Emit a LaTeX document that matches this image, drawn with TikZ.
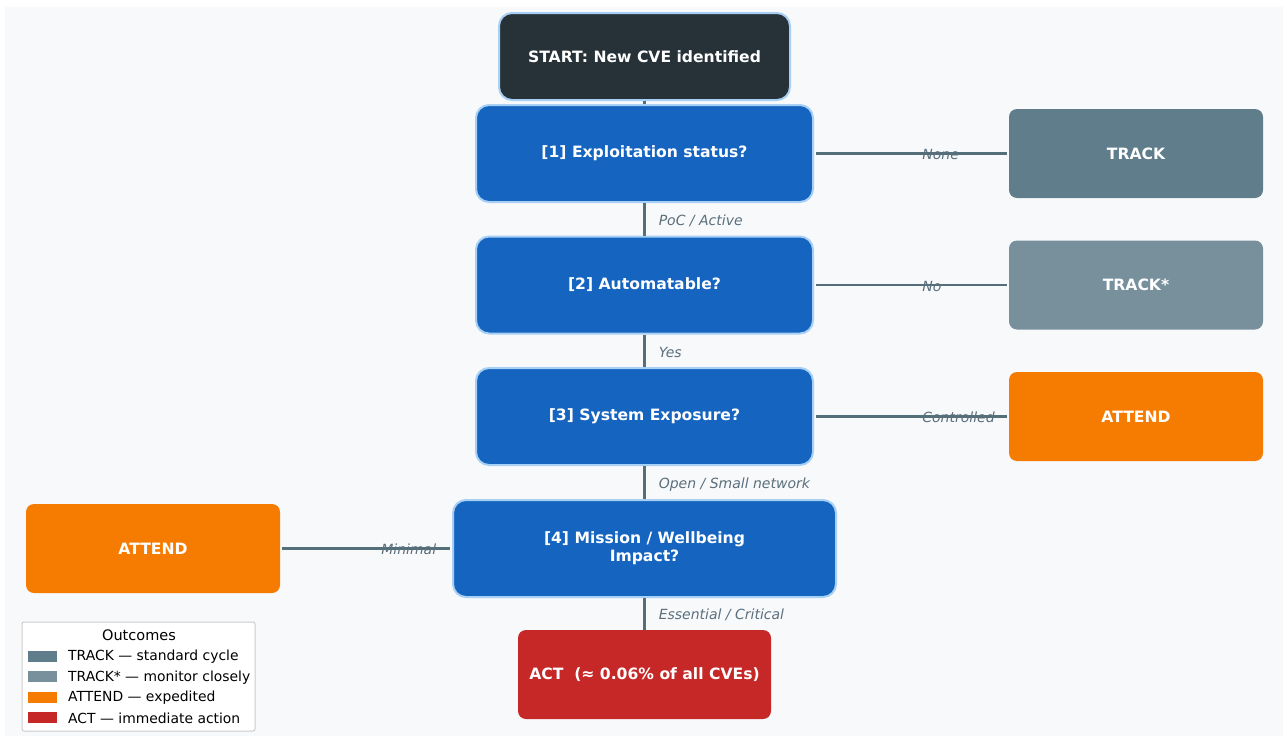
\documentclass[tikz,border=0pt]{standalone}
\usepackage{fontspec}
\setmainfont{DejaVu Sans}
\usetikzlibrary{positioning}
\definecolor{bgc}{HTML}{F8F9FB}
\definecolor{startc}{HTML}{263238}
\definecolor{qc}{HTML}{1565C0}
\definecolor{qborder}{HTML}{A8D0F5}
\definecolor{trackc}{HTML}{607D8B}
\definecolor{trackstc}{HTML}{78909C}
\definecolor{attendc}{HTML}{F57C00}
\definecolor{actc}{HTML}{C62828}
\definecolor{edgec}{HTML}{546E7A}
\definecolor{labc}{HTML}{5B6F7C}
\definecolor{legb}{HTML}{CCCCCC}
\tikzset{
  boxtext/.style={text=white, font=\fontsize{15.6}{18}\selectfont\bfseries, align=center},
  question/.style={boxtext, fill=qc, draw=qborder, line width=2pt, rounded corners=13pt, minimum width=337pt, minimum height=97pt, inner sep=0pt},
  outcome/.style={boxtext, rounded corners=8pt, minimum width=254pt, minimum height=89pt, inner sep=0pt},
  conn/.style={draw=edgec, line width=2.5pt},
  elab/.style={text=labc, font=\fontsize{14}{16}\selectfont\itshape, inner sep=0pt},
  legtext/.style={font=\fontsize{13.9}{16}\selectfont, anchor=west, inner sep=0pt},
  patch/.style={minimum width=29pt, minimum height=11pt, inner sep=0pt},
}
\begin{document}
\begin{tikzpicture}[x=1pt,y=-1pt]
\useasboundingbox (0,0) rectangle (1283,736);
\fill[white] (0,0) rectangle (1283,736);
\fill[bgc] (5,7) rectangle (1283,736);

% nodes
\node[boxtext, fill=startc, draw=qborder, line width=2pt, rounded corners=13pt, minimum width=291pt, minimum height=87pt, inner sep=0pt] (start) at (644.5,56.5) {START: New CVE identified};
\node[question] (q1) at (644.5,153.5) {[1] Exploitation status?};
\node[question] (q2) at (644.5,285) {[2] Automatable?};
\node[question] (q3) at (644.5,416.5) {[3] System Exposure?};
\node[question, minimum width=383pt] (q4) at (644.5,548.5) {[4] Mission / Wellbeing\\Impact?};

\node[outcome, fill=trackc] (track) at (1136,153.5) {TRACK};
\node[outcome, fill=trackstc] (trackst) at (1136,285) {TRACK*};
\node[outcome, fill=attendc] (attendR) at (1136,416.5) {ATTEND};
\node[outcome, fill=attendc] (attendL) at (153,548.5) {ATTEND};
\node[outcome, fill=actc, minimum width=253pt] (act) at (644.5,674.5) {ACT\ \ (≈ 0.06\% of all CVEs)};

% vertical connectors
\draw[conn] (start.south) -- (q1.north);
\draw[conn] (q1.south) -- node[elab, anchor=west, xshift=13pt, yshift=-2pt, pos=0.5] {PoC / Active} (q2.north);
\draw[conn] (q2.south) -- node[elab, anchor=west, xshift=13pt, yshift=-2pt, pos=0.5] {Yes} (q3.north);
\draw[conn] (q3.south) -- node[elab, anchor=west, xshift=13pt, yshift=-2pt, pos=0.5] {Open / Small network} (q4.north);
\draw[conn] (q4.south) -- node[elab, anchor=west, xshift=13pt, yshift=-1pt, pos=0.5] {Essential / Critical} (act.north);

% horizontal connectors
\draw[conn, shorten <=2pt, shorten >=2pt] (q1.east) -- node[elab, anchor=west, pos=0.55, yshift=-1pt] {None} (track.west);
\draw[conn, shorten <=2pt, shorten >=2pt] (q2.east) -- node[elab, anchor=west, pos=0.55, yshift=-1pt] {No} (trackst.west);
\draw[conn, shorten <=2pt, shorten >=2pt] (q3.east) -- node[elab, anchor=west, pos=0.55, yshift=-1pt] {Controlled} (attendR.west);
\draw[conn, shorten <=2pt, shorten >=2pt] (attendL.east) -- node[elab, anchor=east, pos=0.915, yshift=-1pt] {Minimal} (q4.west);

% legend
\node[draw=legb, fill=white, line width=1pt, rounded corners=2pt, minimum width=233pt, minimum height=109pt, inner sep=0pt] (legend) at (138.5,676.5) {};
\node[font=\fontsize{14.5}{17}\selectfont, inner sep=0pt] (legtitle) at (139,635.5) {Outcomes};
\node[patch, fill=trackc] (p1) at (42.5,656) {};
\node[patch, fill=trackstc] (p2) at (42.5,676.5) {};
\node[patch, fill=attendc] (p3) at (42.5,697) {};
\node[patch, fill=actc] (p4) at (42.5,717.5) {};
\node[legtext] (l1) at (68,657) {TRACK — standard cycle};
\node[legtext] (l2) at (68,677.5) {TRACK* — monitor closely};
\node[legtext] (l3) at (68,698) {ATTEND — expedited};
\node[legtext] (l4) at (68,718.5) {ACT — immediate action};
\end{tikzpicture}
\end{document}
